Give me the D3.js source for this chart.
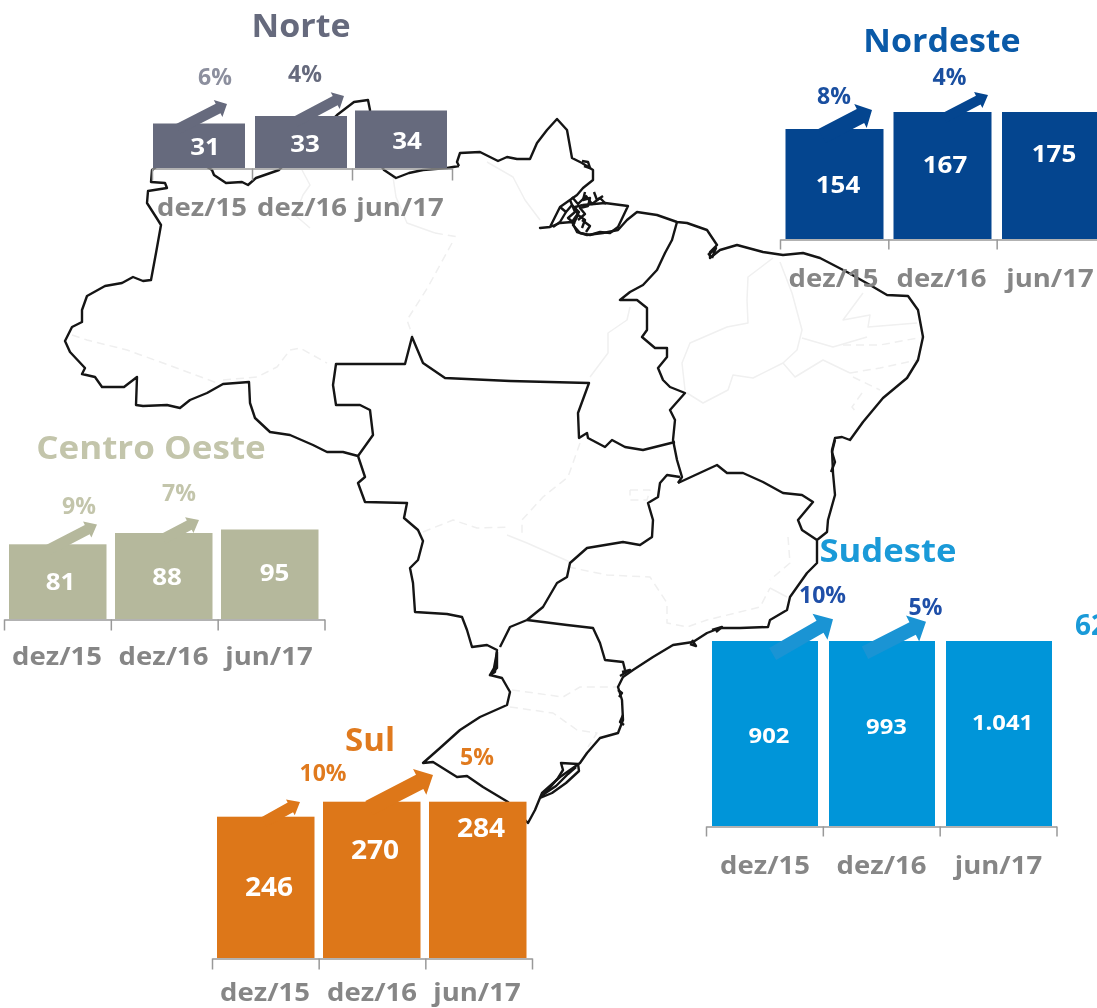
<!DOCTYPE html>
<html>
<head>
<meta charset="utf-8">
<script src="https://cdn.jsdelivr.net/npm/d3@7"></script>
<style>
  html, body { margin: 0; padding: 0; background: #fff; overflow: hidden; }
  svg { display: block; filter: blur(0.45px); }
  text { font-family: "Open Sans", sans-serif; font-weight: 700; }
</style>
</head>
<body>
<div id="chart"></div>
<script>
// Chart values
const categories = ["dez/15", "dez/16", "jun/17"];
const norteValues = [31, 33, 34];
const nordesteValues = [154, 167, 175];
const centroOesteValues = [81, 88, 95];
const sudesteValues = [902, 993, 1041];
const sulValues = [246, 270, 284];
const norteGrowth = ["6%", "4%"];
const nordesteGrowth = ["8%", "4%"];
const centroOesteGrowth = ["9%", "7%"];
const sudesteGrowth = ["10%", "5%"];
const sulGrowth = ["10%", "5%"];

// Background map (pixel coords)
const outerBorder = [
  [459,166],[457,162],[460,153],[480,152],[498,161],[507,157],[517,159],[530,159],[537,143],[547,130],[557,119],[567,130],[572,158],[582,163],[593,170],[593,180],[583,188],[577,195],[560,207],[550,227],[540,228],[550,227],[560,223],[572,222],[577,232],[587,235],[603,233],[618,230],[627,220],[637,212],[657,215],[677,222],[687,223],[707,230],[717,245],[710,252],[710,258],[720,250],[737,245],[763,252],[783,255],[803,253],[820,258],[847,272],[870,285],[887,295],[908,296],[918,310],[923,337],[918,360],[907,378],[883,398],[863,422],[850,440],[842,437],[835,438],[832,450],[833,473],[835,495],[828,520],[827,532],[817,540],[817,563],[807,573],[790,597],[787,610],[770,620],[768,627],[740,628],[720,628],[707,633],[693,642],[673,645],[653,657],[633,670],[623,677],[618,687],[622,700],[623,720],[618,733],[600,738],[587,753],[580,763],[560,777],[542,793],[535,810],[528,823],[520,815],[508,802],[483,787],[467,776],[457,777],[433,762],[423,763],[440,748],[460,730],[480,717],[507,705],[510,692],[502,678],[490,675],[495,672],[497,650],[487,645],[472,647],[467,630],[462,617],[447,614],[415,612],[413,583],[410,568],[418,560],[423,541],[418,530],[404,518],[407,503],[365,502],[358,483],[365,477],[358,456],[343,452],[327,452],[313,445],[290,435],[270,432],[255,418],[250,403],[249,382],[223,384],[207,393],[190,400],[180,408],[167,405],[143,406],[136,405],[137,377],[124,387],[102,387],[95,377],[82,374],[85,368],[70,352],[65,341],[68,335],[72,327],[82,322],[82,310],[87,296],[105,286],[122,283],[133,277],[143,281],[151,280],[156,253],[161,225],[156,217],[147,203],[148,191],[167,188],[165,183],[151,182],[152,170],[180,150],[212,170],[214,175],[226,183],[242,182],[248,185],[256,178],[279,170],[300,150],[337,115],[354,102],[368,100],[370,110],[370,150],[384,170],[396,178],[409,173],[423,170],[447,168],[459,166]
];
const regionBorders = [
  // Norte / Nordeste
  [[677,222],[672,240],[665,253],[657,270],[643,285],[630,292],[620,300],[637,300],[647,308],[647,330],[642,337],[655,348],[667,348],[667,357],[658,368],[663,380],[670,387],[685,393],[670,410],[675,420],[673,440],[677,460],[682,477],[678,483]],
  // Norte / Centro Oeste
  [[358,456],[373,435],[370,410],[360,405],[336,405],[333,385],[336,364],[405,364],[412,337],[423,363],[445,378],[510,381],[589,383],[578,413],[579,438],[587,433],[588,438],[605,447],[612,440],[625,447],[643,450],[675,442]],
  // Centro Oeste / Sudeste
  [[680,477],[667,475],[660,483],[658,497],[648,503],[653,520],[652,537],[640,545],[623,542],[587,548],[570,563],[567,577],[557,583],[543,607],[527,620],[510,627],[500,647]],
  // Sul / Sudeste
  [[527,620],[567,625],[593,628],[600,643],[605,660],[623,662],[625,670]],
  // Sudeste / Nordeste
  [[678,483],[717,465],[727,473],[743,473],[763,482],[783,493],[802,495],[813,502],[798,520],[802,530],[817,540]],
  // Marajo and river mouth
  [[583,205],[605,203],[628,206],[618,227],[610,233],[600,232],[590,235],[580,233],[573,225],[578,215],[575,207],[583,205]],
  [[560,207],[566,212],[572,205],[579,212],[572,222]],
  [[572,197],[578,204],[586,196],[592,204],[600,198],[606,204]],
  [[566,212],[560,222],[553,227]],
  [[578,215],[585,220],[582,228]],
  [[570,200],[575,212],[568,218],[575,224]],
  [[585,192],[583,200],[590,198],[588,206],[580,208],[585,214],[578,220]],
  [[594,192],[597,200],[603,196]],
  [[582,220],[590,226],[586,232]],
  // thick spots along the coast
  [[582,161],[588,162],[590,168],[584,166]],
  [[497,652],[494,668],[490,675],[497,668],[497,652]],
  [[835,440],[832,452],[835,462],[831,472]],
  [[622,672],[630,670],[620,676]],
  [[618,690],[622,693],[619,697]],
  [[623,715],[620,722],[624,725]],
  [[692,640],[696,646],[690,644]],
  [[712,630],[722,627],[716,632]],
  [[708,255],[716,248],[712,258]],
  // Lagoa dos Patos
  [[540,798],[548,790],[558,778],[563,770],[561,763],[578,764],[579,771],[566,783],[552,793],[540,798]],
  [[544,794],[556,786],[568,774],[576,767]]
];
const stateLines = [
  [[487,162],[513,177],[525,200],[540,220]],
  [[630,307],[627,320],[608,333],[608,353],[590,377]],
  [[773,258],[748,277],[747,300],[748,323],[727,327],[690,343],[682,363],[685,390]],
  [[780,262],[792,293],[802,330],[797,350],[783,363],[753,378],[733,375],[728,390],[703,403],[687,393]],
  [[863,293],[843,320],[870,315],[868,327],[917,323]],
  [[802,338],[833,347],[867,337]],
  [[783,363],[795,377],[823,360],[850,373]],
  [[302,170],[310,185],[303,195],[295,215],[310,228]],
  [[393,177],[396,197],[407,223],[435,233]],
  [[507,535],[527,543],[570,562]],
  [[770,588],[787,597]]
];
const dashedStateLines = [
  [[72,335],[87,340],[127,350],[163,363],[217,383]],
  [[223,380],[257,377],[277,367],[290,350],[300,348],[327,363]],
  [[435,233],[458,237]],
  [[452,243],[428,287],[407,320],[413,337]],
  [[843,345],[880,345],[923,337]],
  [[850,373],[880,368],[917,360]],
  [[853,377],[880,390]],
  [[862,393],[852,407],[857,413]],
  [[580,443],[568,477],[543,497],[522,520],[522,537]],
  [[423,532],[453,520],[477,528],[510,527]],
  [[630,490],[650,490],[647,500],[630,500],[630,490]],
  [[568,567],[607,575],[650,577],[667,603],[667,623],[687,627],[707,620],[760,607],[770,588]],
  [[788,537],[790,563],[770,580]],
  [[512,690],[563,697],[580,687],[620,687]],
  [[510,707],[553,713],[577,730],[597,733],[588,747]]
];

// Panel layout: scales map values to bar tops, ticks and labels sit around them
const panels = [
  { title: "Norte", titleX: 301, titleY: 25, titleSize: 33, titleStretch: 1.03, color: "#666a7d", titleColor: "#666a7d",
    values: norteValues, growth: norteGrowth, growthColors: ["#8c8f9e", "#666a7d"],
    yDomain: [31, 33, 34], yRange: [123.5, 116, 110.5], base: 168, barLefts: [153, 255, 355], barWidth: 92,
    ticks: [152, 452], tickEnd: 180, labelY: 207, labelX: [202, 302, 400],
    valueX: [205, 305, 407], valueY: [146, 143, 140], valueSize: 24,
    growthX: [215, 305], growthY: [77, 74], growthSize: 23,
    arrows: [{ from: [178, 129], to: [227, 104], shaft: 10.5, head: 19, len: 10 },
             { from: [295, 122], to: [344, 96], shaft: 10.5, head: 19, len: 10 }] },
  { title: "Nordeste", titleX: 942, titleY: 40, titleSize: 33, titleStretch: 1.03, color: "#04458f", titleColor: "#0a5aa8",
    values: nordesteValues, growth: nordesteGrowth, growthColors: ["#1a4fa0", "#1a4fa0"],
    yDomain: [154, 167], yRange: [129, 112], clamp: true, base: 239, barLefts: [785.5, 893.5, 1002], barWidth: 98,
    ticks: [780, 1105], tickEnd: 249, labelY: 278, labelX: [833.5, 941.5, 1050],
    valueX: [838, 945, 1054], valueY: [184, 164, 153], valueSize: 24,
    growthX: [834, 949.5], growthY: [96, 77], growthSize: 23,
    arrows: [{ from: [822, 136], to: [872, 110], shaft: 16, head: 27, len: 13 },
             { from: [944, 118], to: [988, 95], shaft: 10, head: 18, len: 11 }] },
  { title: "Centro Oeste", titleX: 151, titleY: 447, titleSize: 33, titleStretch: 1.06, color: "#b5b89c", titleColor: "#c3c5ab",
    values: centroOesteValues, growth: centroOesteGrowth, growthColors: ["#c3c5ab", "#c3c5ab"],
    yDomain: [81, 88, 95], yRange: [544.3, 533, 529.5], base: 619, barLefts: [9, 115, 221], barWidth: 97.5,
    ticks: [4, 324.5], tickEnd: 630, labelY: 656, labelX: [57, 163.5, 269],
    valueX: [60.5, 167, 274.5], valueY: [581, 576, 572], valueSize: 24,
    growthX: [79, 179], growthY: [506, 493], growthSize: 23,
    arrows: [{ from: [48, 550], to: [97, 524.5], shaft: 10.5, head: 18, len: 11 },
             { from: [163, 539], to: [199, 520], shaft: 10.5, head: 18, len: 11 }] },
  { title: "Sudeste", titleX: 888, titleY: 550, titleSize: 33, titleStretch: 1.05, color: "#0095d9", titleColor: "#1a9ad8",
    values: sudesteValues, growth: sudesteGrowth, growthColors: ["#1f4fa8", "#1f4fa8"], arrowColor: "#1a94d4",
    yDomain: [902, 1041], yRange: [641, 641], base: 826, barLefts: [712, 829, 946], barWidth: 106,
    ticks: [706, 1056.5], tickEnd: 836, labelY: 865, labelX: [765, 881.5, 998.5],
    valueX: [769, 886.5, 1002.5], valueY: [735, 726, 722], valueSize: 22,
    growthX: [822.5, 925.5], growthY: [595, 607], growthSize: 23,
    arrows: [{ from: [772.7, 654], to: [833, 619.3], shaft: 14, head: 30, len: 15 },
             { from: [865, 652.7], to: [926, 621.7], shaft: 14, head: 29, len: 15 }] },
  { title: "Sul", titleX: 370, titleY: 739, titleSize: 33, titleStretch: 1, color: "#dd7719", titleColor: "#e07a1e",
    values: sulValues, growth: sulGrowth, growthColors: ["#e07a1e", "#e07a1e"],
    yDomain: [246, 270], yRange: [816.7, 801.7], clamp: true, base: 958, barLefts: [217, 323, 429], barWidth: 97.5,
    ticks: [212, 532], tickEnd: 969, labelY: 992, labelX: [265, 372, 477],
    valueX: [269, 375, 481], valueY: [887, 850, 828], valueSize: 26,
    growthX: [323, 477], growthY: [773, 757], growthSize: 23,
    arrows: [{ from: [264, 822], to: [300, 802], shaft: 11, head: 18, len: 11 },
             { from: [369, 808], to: [433, 775], shaft: 16, head: 29, len: 15 }] }
];

const width = 1097, height = 1008;
const svg = d3.select("#chart").append("svg")
  .attr("width", width)
  .attr("height", height);

const lineGen = d3.line();
const valueFormat = d3.formatLocale({ decimal: ",", thousands: ".", grouping: [3], currency: ["", ""] }).format(",");

// Open Sans runs a bit narrower than the font in the picture
function stretch(sel, k) {
  sel.each(function() {
    d3.select(this)
      .attr("textLength", this.getComputedTextLength() * k)
      .attr("lengthAdjust", "spacingAndGlyphs");
  });
}

// Map comes first so that the bars cover it
const mapGroup = svg.append("g").attr("fill", "none").attr("stroke-linejoin", "round");
mapGroup.selectAll("path.state")
  .data(stateLines)
  .join("path")
  .attr("class", "state")
  .attr("d", lineGen)
  .attr("stroke", "#f0f0f0")
  .attr("stroke-width", 1.5);
mapGroup.selectAll("path.dashed")
  .data(dashedStateLines)
  .join("path")
  .attr("class", "dashed")
  .attr("d", lineGen)
  .attr("stroke", "#efefef")
  .attr("stroke-width", 1.5)
  .attr("stroke-dasharray", "8 5");
mapGroup.selectAll("path.region")
  .data(regionBorders.concat([outerBorder]))
  .join("path")
  .attr("class", "region")
  .attr("d", lineGen)
  .attr("stroke", "#151515")
  .attr("stroke-width", 2.4);

function arrowPoints(a) {
  const dx = a.to[0] - a.from[0], dy = a.to[1] - a.from[1];
  const l = Math.hypot(dx, dy);
  const ux = dx / l, uy = dy / l;
  const px = -uy, py = ux;
  const nx = a.to[0] - ux * a.len, ny = a.to[1] - uy * a.len;
  return [
    [a.from[0] + px * a.shaft / 2, a.from[1] + py * a.shaft / 2],
    [nx + px * a.shaft / 2, ny + py * a.shaft / 2],
    [nx + px * a.head / 2, ny + py * a.head / 2],
    a.to,
    [nx - px * a.head / 2, ny - py * a.head / 2],
    [nx - px * a.shaft / 2, ny - py * a.shaft / 2],
    [a.from[0] - px * a.shaft / 2, a.from[1] - py * a.shaft / 2]
  ];
}

function drawPanel(p) {
  const g = svg.append("g").attr("class", "panel");
  const x = d3.scaleOrdinal(categories, p.barLefts);
  const labelX = d3.scaleOrdinal(categories, p.labelX);
  const y = d3.scaleLinear().domain(p.yDomain).range(p.yRange).clamp(true);
  const rows = categories.map((c, i) => ({ cat: c, value: p.values[i], i: i }));

  g.selectAll("rect")
    .data(rows)
    .join("rect")
    .attr("x", d => x(d.cat))
    .attr("y", d => y(d.value))
    .attr("width", p.barWidth)
    .attr("height", d => p.base - y(d.value))
    .attr("fill", p.color);

  // Bracket style axis, ticks on the category boundaries
  const tickScale = d3.scaleLinear().domain([0, categories.length]).range(p.ticks);
  const axis = g.append("g")
    .attr("transform", `translate(0,${p.base + 0.5})`)
    .call(d3.axisBottom(tickScale)
      .tickValues(d3.range(categories.length + 1))
      .tickSize(p.tickEnd - p.base)
      .tickSizeOuter(0)
      .tickFormat(""));
  axis.selectAll("path, line").attr("stroke", "#999999").attr("stroke-width", 1.5);

  g.selectAll("path.arrow")
    .data(p.arrows)
    .join("path")
    .attr("class", "arrow")
    .attr("d", d => lineGen(arrowPoints(d)) + "Z")
    .attr("fill", p.arrowColor || p.color);

  g.selectAll("text.value")
    .data(rows)
    .join("text")
    .attr("class", "value")
    .attr("x", d => p.valueX[d.i])
    .attr("y", d => p.valueY[d.i])
    .attr("dy", "0.36em")
    .attr("text-anchor", "middle")
    .attr("font-size", p.valueSize)
    .attr("fill", "#fff")
    .text(d => valueFormat(d.value))
    .call(stretch, 1.08);

  g.selectAll("text.cat")
    .data(rows)
    .join("text")
    .attr("class", "cat")
    .attr("x", d => labelX(d.cat))
    .attr("y", p.labelY)
    .attr("dy", "0.36em")
    .attr("text-anchor", "middle")
    .attr("font-size", 25)
    .attr("fill", "#868686")
    .text(d => d.cat)
    .call(stretch, 1.1);

  g.selectAll("text.growth")
    .data(p.growth)
    .join("text")
    .attr("class", "growth")
    .attr("x", (d, i) => p.growthX[i])
    .attr("y", (d, i) => p.growthY[i])
    .attr("dy", "0.36em")
    .attr("text-anchor", "middle")
    .attr("font-size", p.growthSize)
    .attr("fill", (d, i) => p.growthColors[i])
    .text(d => d);

  g.append("text")
    .attr("x", p.titleX)
    .attr("y", p.titleY)
    .attr("dy", "0.36em")
    .attr("text-anchor", "middle")
    .attr("font-size", p.titleSize)
    .attr("fill", p.titleColor)
    .text(p.title)
    .call(stretch, p.titleStretch);
}

panels.forEach(drawPanel);

// Partly cut off label at the right edge of the slide
svg.append("text")
  .attr("x", 1075)
  .attr("y", 625)
  .attr("dy", "0.36em")
  .attr("font-size", 28)
  .attr("fill", "#1a9ad8")
  .text("62");
</script>
</body>
</html>
